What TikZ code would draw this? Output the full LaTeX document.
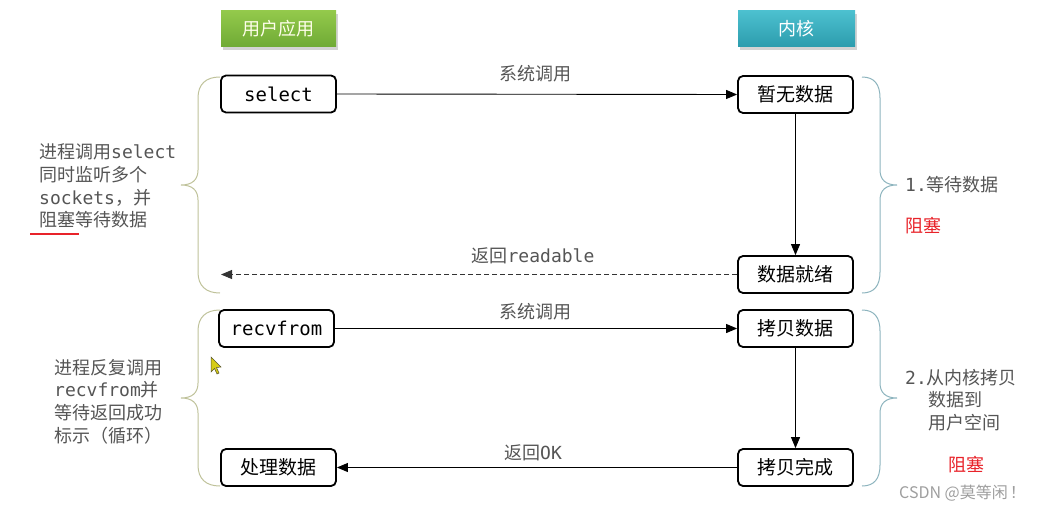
\documentclass[tikz,border=0pt]{standalone}
\usepackage{fontspec}
\setmainfont{DejaVu Sans Mono}
\newfontfamily\cjk{Noto Sans CJK SC}
\newcommand{\zh}[1]{{\cjk #1}}
\usetikzlibrary{arrows.meta,shadows}
\definecolor{txtgray}{HTML}{555555}
\definecolor{myred}{HTML}{E8232A}
\definecolor{lbrace}{HTML}{BFC29A}
\definecolor{rbrace}{HTML}{8DB4BE}
\definecolor{greentop}{HTML}{93C94B}
\definecolor{greenbot}{HTML}{6FAA35}
\definecolor{tealtop}{HTML}{4CC0CF}
\definecolor{tealbot}{HTML}{2C9CAD}
\tikzset{
  boxnode/.style={draw=black, line width=1.8pt, rounded corners=5pt, minimum width=115pt, minimum height=37pt, inner sep=0pt, font=\fontsize{19}{19}\selectfont, fill=white},
  header/.style={minimum height=36pt, inner sep=0pt, font=\fontsize{18}{18}\selectfont\cjk, drop shadow={opacity=0.35, shadow xshift=2pt, shadow yshift=-3pt}},
  flow/.style={draw=black, line width=0.9pt, -{Triangle[length=11pt,width=9pt]}},
  backflow/.style={draw=black!80, line width=0.9pt, dash pattern=on 5pt off 3pt, -{Triangle[length=11pt,width=9pt]}},
  lbl/.style={text=txtgray, inner sep=0pt, font=\fontsize{18}{18}\selectfont},
  side/.style={text=txtgray, inner sep=0pt, align=left, anchor=west, font=\fontsize{18}{22.7}\selectfont},
  redtxt/.style={text=myred, inner sep=0pt, anchor=west, font=\fontsize{18}{18}\selectfont\cjk},
  lbr/.style={draw=lbrace, line width=1pt},
  rbr/.style={draw=rbrace, line width=1pt}
}
\begin{document}
\begin{tikzpicture}[x=1pt,y=-1pt]
\useasboundingbox (0,0) rectangle (1043,511);
% headers
\node[header, minimum width=115pt, top color=greentop, bottom color=greenbot, text=white!92!yellow] (hu) at (278.5,29) {用户应用};
\node[header, minimum width=117pt, top color=tealtop, bottom color=tealbot, text=white] (hk) at (796.5,29) {内核};
% boxes
\node[boxnode] (sel) at (278.5,94) {select};
\node[boxnode] (nod) at (795.5,94.5) {\zh{暂无数据}};
\node[boxnode] (rdy) at (795.5,274.5) {\zh{数据就绪}};
\node[boxnode] (rcv) at (276.5,328.5) {recvfrom};
\node[boxnode] (cpy) at (795.5,328.5) {\zh{拷贝数据}};
\node[boxnode] (prc) at (278.5,467.5) {\zh{处理数据}};
\node[boxnode] (don) at (795.5,467.5) {\zh{拷贝完成}};
\coordinate (retend) at (221,274.5);
% connectors
\draw[flow] (sel.east) -- (nod.west);
\draw[flow] (nod.south) -- (rdy.north);
\draw[backflow] (rdy.west) -- (retend);
\draw[flow] (rcv.east) -- (cpy.west);
\draw[flow] (cpy.south) -- (don.north);
\draw[flow] (don.west) -- (prc.east);
% connector labels
\node[lbl] (l1) at (535,74) {\zh{系统调用}};
\node[lbl] (l2) at (533,256) {\zh{返回}readable};
\node[lbl] (l3) at (535,312) {\zh{系统调用}};
\node[lbl] (l4) at (533,453) {\zh{返回}OK};
% left braces
\draw[lbr] (220,77) .. controls (206,77) and (198,84) .. (198,98) -- (198,170)
  .. controls (198,180) and (192,185) .. (181,185) .. controls (192,185) and (198,190) .. (198,200)
  -- (198,272) .. controls (198,286) and (206,293) .. (220,293);
\draw[lbr] (220,310) .. controls (206,310) and (198,317) .. (198,331) -- (198,383)
  .. controls (198,393) and (192,398) .. (181,398) .. controls (192,398) and (198,403) .. (198,413)
  -- (198,465) .. controls (198,479) and (206,486) .. (220,486);
% right braces
\draw[rbr] (862,77) .. controls (874,77) and (880,84) .. (880,98) -- (880,170)
  .. controls (880,180) and (886,185) .. (897,185) .. controls (886,185) and (880,190) .. (880,200)
  -- (880,272) .. controls (880,286) and (874,293) .. (862,293);
\draw[rbr] (862,310) .. controls (874,310) and (880,317) .. (880,331) -- (880,383)
  .. controls (880,393) and (886,398) .. (897,398) .. controls (886,398) and (880,403) .. (880,413)
  -- (880,465) .. controls (880,479) and (874,486) .. (862,486);
% side texts
\node[side] (t1) at (39,186) {\zh{进程调用}select\\\zh{同时监听多个}\\sockets\zh{，并}\\\zh{阻塞等待数据}};
\draw[myred, line width=2pt] (30,234) -- (79,234);
\node[side] (t2) at (54,401.5) {\zh{进程反复调用}\\recvfrom\zh{并}\\\zh{等待返回成功}\\\zh{标示（循环）}};
\node[side] (t3) at (905,185) {1.\zh{等待数据}};
\node[redtxt] (b1) at (905,226) {阻塞};
\node[side] (t4) at (905,400) {2.\zh{从内核拷贝}\\\hspace*{23pt}\zh{数据到}\\\hspace*{23pt}\zh{用户空间}};
\node[redtxt] (b2) at (948,465) {阻塞};
\node[text=black!38, inner sep=0pt, anchor=west, font=\fontsize{16}{16}\selectfont\cjk] (wm) at (899,493) {CSDN @莫等闲\hspace{2pt}！};
% mouse cursor
\fill[draw=black!50!olive, fill=yellow!60!olive!90, line width=0.5pt] (211,357) -- (211,372) -- (214.5,368.5) -- (217,374) -- (219,373) -- (216.5,367.5) -- (221,367) -- cycle;
\end{tikzpicture}
\end{document}
